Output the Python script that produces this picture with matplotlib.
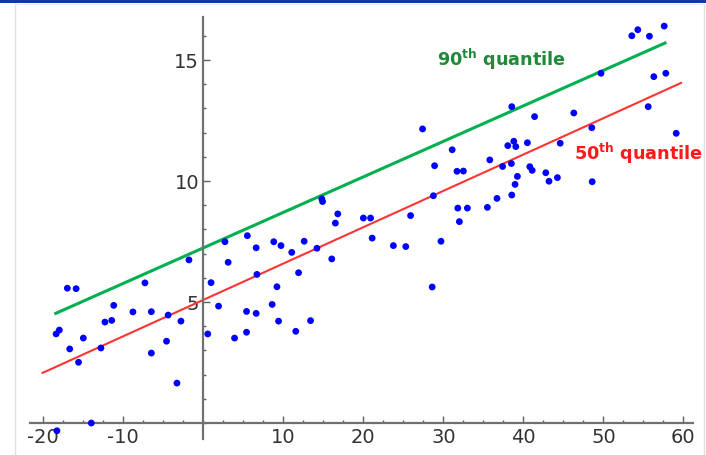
import numpy as np
import matplotlib
matplotlib.use("Agg")
import matplotlib.pyplot as plt
from matplotlib.lines import Line2D
from matplotlib.patches import Rectangle

# scatter data
x_pts = [-18.4, -18.0, -17.0, -15.9, -16.7, -15.0, -15.6, -12.8, -12.3, -11.45,
         -11.2, -8.8, -7.3, -6.5, -6.5, -4.4, -4.6, -2.8, -1.8, -3.3,
         -14.0, -18.3,
         0.55, 0.96, 1.9, 3.1, 3.9, 5.4, 5.4, 6.6, 6.7, 6.6,
         8.6, 9.2, 9.4, 11.05, 11.55, 11.9, 13.4, 14.2, 16.05, 2.7,
         5.5, 8.8, 9.7, 12.6, 14.8, 14.9, 16.5, 16.8, 20.0, 20.9,
         21.1, 23.75, 25.3, 25.9, 27.4, 28.9, 28.75, 28.6, 29.7,
         31.1, 31.7, 32.5, 31.8, 33.0, 32.0, 35.5, 35.8, 36.7, 37.4,
         38.5, 38.55, 38.55, 38.05, 38.8, 39.05, 38.96, 39.25, 40.5, 40.8,
         41.1, 41.4, 42.8, 43.2, 44.25, 44.6, 46.3, 48.55, 48.6, 49.7,
         53.55, 54.3, 55.75, 55.6, 56.3, 57.8, 57.6, 59.1]
y_pts = [3.68, 3.84, 5.57, 5.55, 3.06, 3.51, 2.51, 3.10, 4.17, 4.24,
         4.86, 4.59, 5.79, 4.60, 2.89, 4.46, 3.38, 4.21, 6.74, 1.65,
         0.0, -0.32,
         3.68, 5.80, 4.83, 6.64, 3.51, 4.61, 3.75, 4.53, 6.14, 7.24,
         4.90, 5.63, 4.21, 7.05, 3.79, 6.21, 4.23, 7.22, 6.78, 7.49,
         7.74, 7.49, 7.33, 7.51, 9.26, 9.15, 8.26, 8.64, 8.47, 8.47,
         7.64, 7.33, 7.29, 8.57, 12.15, 10.63, 9.39, 5.62, 7.51,
         11.29, 10.40, 10.41, 8.88, 8.88, 8.32, 8.91, 10.87, 9.28, 10.60,
         10.72, 9.42, 13.07, 11.46, 11.64, 11.42, 9.86, 10.19, 11.58, 10.59,
         10.44, 12.66, 10.34, 9.99, 10.14, 11.56, 12.81, 12.20, 9.97, 14.45,
         16.00, 16.25, 15.98, 13.07, 14.31, 14.45, 16.40, 11.97]

# fitted quantile lines (end points)
q50_x = [-20.1, 59.7]
q50_y = [2.07, 14.05]
q90_x = [-18.45, 57.7]
q90_y = [4.53, 15.7]

x_ticks = [-20, -10, 10, 20, 30, 40, 50, 60]
y_ticks = [5, 10, 15]

plt.rcParams['axes.unicode_minus'] = False
plt.rcParams['mathtext.fontset'] = 'dejavusans'

fig = plt.figure(figsize=(7.06, 4.56), dpi=100)
ax = fig.add_axes([0.0421, 0.0351, 0.9395, 0.9257])

ax.plot(q50_x, q50_y, color='#ff3333', lw=1.5, zorder=2)
ax.plot(q90_x, q90_y, color='#00b04f', lw=2.2, zorder=2)
ax.scatter(x_pts, y_pts, s=24, color='#0000ff', edgecolors='none', zorder=3)

ax.set_xlim(-21.7, 61.2)
ax.set_ylim(-0.66, 16.78)

# axes crossing at the origin, Sage style
for side in ['top', 'right']:
    ax.spines[side].set_visible(False)
ax.spines['left'].set_position(('data', 0))
ax.spines['bottom'].set_position(('data', 0))
for side in ['left', 'bottom']:
    ax.spines[side].set_color('#707070')
    ax.spines[side].set_linewidth(1.6)

ax.set_xticks(x_ticks)
ax.set_yticks(y_ticks)
ax.set_xticks(np.arange(-20, 61, 2.5), minor=True)
ax.set_yticks(np.arange(0, 17, 1), minor=True)
ax.tick_params(which='major', direction='in', length=5, width=1, color='#606060',
               labelsize=14, labelcolor='#333333')
ax.tick_params(which='minor', direction='in', length=2.5, width=1, color='#606060')
ax.tick_params(axis='x', pad=3)
ax.tick_params(axis='y', pad=3)
ax.patch.set_alpha(0)

ax.text(29.2, 14.8, r'$\mathbf{90^{th}\ quantile}$', color='#21893a', fontsize=12.7,
        ha='left', va='baseline')
ax.text(46.3, 10.9, r'$\mathbf{50^{th}\ quantile}$', color='#ff1a1a', fontsize=12.7,
        ha='left', va='baseline')

# page frame around the plot
fig.add_artist(Rectangle((0, 1 - 3.5 / 456), 1, 3.5 / 456, transform=fig.transFigure,
                         color='#0a3d99', lw=0))
fig.add_artist(Line2D([14.5 / 706, 14.5 / 706], [0, 1 - 5 / 456], transform=fig.transFigure,
                      color='#e0e0e0', lw=1))
fig.add_artist(Line2D([704 / 706, 704 / 706], [0, 1 - 5 / 456], transform=fig.transFigure,
                      color='#e0e0e0', lw=1))
fig.add_artist(Line2D([14.5 / 706, 704 / 706], [1 - 5 / 456, 1 - 5 / 456],
                      transform=fig.transFigure, color='#ececec', lw=1))

fig.savefig('out.png', dpi=100)
